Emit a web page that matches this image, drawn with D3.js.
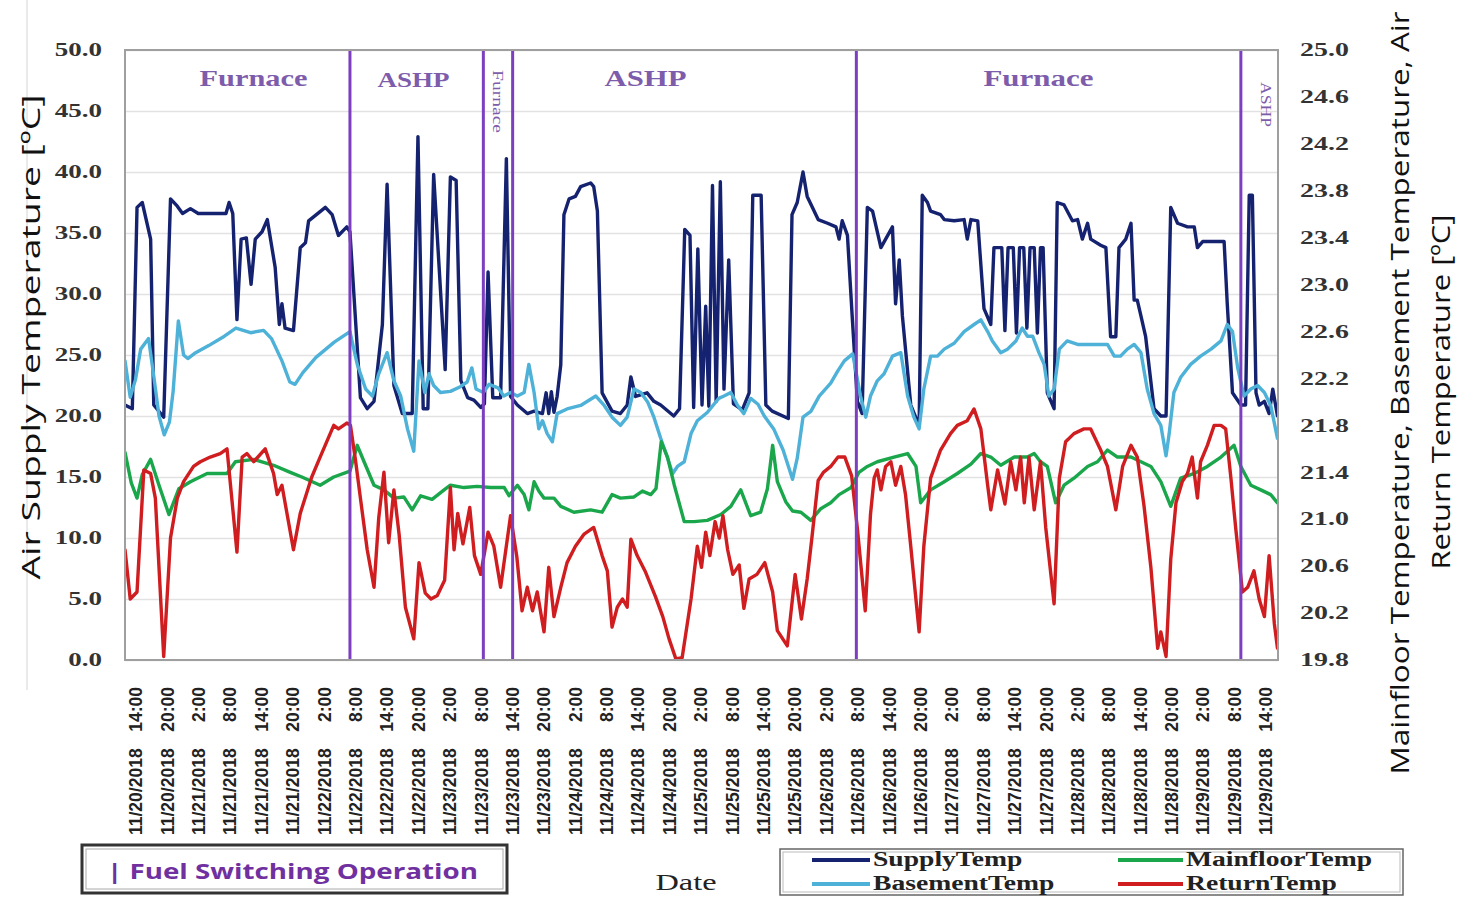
<!DOCTYPE html>
<html><head><meta charset="utf-8">
<script src="https://cdn.jsdelivr.net/npm/d3@7"></script>
<style>body{margin:0;background:#fff}svg{display:block}</style>
</head><body>
<svg id="chart" width="1458" height="899"></svg>
<script>
// ---------------- DATA ----------------
const axisStart = "11/20/2018 12:00";
const axisEnd   = "11/29/2018 16:24";

// hours after axisStart / SupplyTemp [°C] (left axis)
const supplyHours = [0,1.4,2.3,3.3,4.9,5.5,7.4,8.7,10,11,12.5,14,19.3,19.9,20.6,21.4,22.2,23.2,24.1,24.9,26.2,27.2,28.7,29.5,30,30.6,32.2,33.5,34.5,35.1,38.3,39.6,40.8,42.4,43,
 45,46.3,47.6,49.2,50.1,51.4,53,54.9,56,57,57.9,59,61.2,62.2,63.3,64.2,65.5,66.7,68,68.7,69.4,70.3,71.8,72.9,73.7,
 75,76.9,78.2,79.8,80.5,81,81.5,82,82.6,83.3,83.9,84.9,86.1,87.1,89,89.6,90.3,91.2,93.1,94.7,96,96.7,97.6,99.8,101.1,102.4,104.9,
 106,107,108,108.7,109.5,110.3,111,111.6,112.3,113,113.8,114.5,115.4,116.3,118,119.3,120,121.6,122.5,123.7,126.8,127.5,128.5,129.6,130.4,131.5,132.5,134.3,135.9,136.5,137.1,138.1,139,140,140.9,
 141.9,142.9,144.5,145.4,146.7,147.3,148,148.6,150.2,151.8,152.4,153.4,154,155.9,156.6,158.5,160.4,161,161.7,163,164.2,165.5,166.1,167.6,168.2,168.8,169.8,170.4,171,171.8,172.4,173,173.8,174.4,175,175.5,176.3,177.6,
 178.2,179.5,181.1,182.1,183,184,184.6,186.5,187.5,188.4,189.4,190,191.3,192.3,192.9,193.5,194.2,195.1,196.7,198,199,199.9,201.2,203.1,204.4,205,206,210.1,210.7,211.7,213.3,214.2,214.9,215.5,216.2,216.8,217.8,218.7,219.4,220.3];
const supplyTemp = [20.9,20.6,37.1,37.5,34.5,20.9,19.9,37.8,37.2,36.6,37.0,36.6,36.6,37.5,36.6,27.9,34.5,34.6,30.8,34.5,35.1,36.1,32.2,27.5,29.2,27.2,27.0,33.8,34.2,36.0,37.1,36.5,34.8,35.5,35.1,
 21.5,20.6,21.2,27.5,39.0,22.5,20.2,20.2,42.9,20.6,20.6,39.8,23.8,39.6,39.3,22.9,21.5,21.3,20.7,21.0,31.8,21.5,21.5,41.1,21.6,
 20.9,20.2,20.4,20.2,21.9,20.2,22.0,20.3,21.6,24.2,36.5,37.8,38.0,38.8,39.1,38.8,36.8,21.9,20.4,20.2,20.9,23.2,21.6,21.9,21.2,20.9,20.0,
 20.6,35.3,34.8,20.7,33.7,20.9,29.0,20.8,38.9,21.2,39.2,22.2,32.8,21.0,20.5,21.9,38.1,38.1,20.9,20.4,19.8,36.5,37.5,40.0,38.0,37.0,36.1,35.8,35.5,34.5,36.0,34.8,28.2,21.2,20.2,
 37.1,36.8,33.8,34.5,35.5,29.2,32.8,28.2,20.9,19.2,38.1,37.5,36.8,36.5,36.1,36.0,36.1,34.5,36.1,36.0,28.8,27.5,33.8,33.8,27.0,33.8,33.8,26.8,33.8,33.8,27.2,33.8,33.8,26.8,33.8,33.8,21.9,20.6,
 37.5,37.3,36.0,36.1,34.5,35.8,34.5,34.0,33.8,26.5,26.5,33.8,34.5,35.8,29.5,29.5,28.2,26.5,20.6,20.0,20.0,37.1,35.8,35.5,35.5,33.8,34.3,34.3,29.2,21.9,20.9,20.9,38.1,38.1,21.9,20.9,21.2,20.2,22.2,20.0];

// BasementTemp [°C] (right axis)
const basementHours = [0,1,2,3,4.5,5.5,6.5,7.5,8.5,9.2,10.2,11.2,12,13.5,16,19,21.2,24,26.5,28,30,31.5,32.5,34,36.5,40,43,
 44.4,46,47.3,48.5,50.1,51.4,52.7,54,55.2,56.2,57.3,58.1,59,60.3,62.2,64.1,65.4,66.3,67.1,68.5,69.6,71.3,72.4,73.7,75,76.3,77.2,78.2,79.1,79.8,80.7,81.7,82.6,84.5,87.1,90,91.6,93.1,94.7,96,97.3,
 98.6,99.9,101.1,102.4,103.5,104.7,105.6,106.9,108.2,109.4,111.3,113.5,114.5,115.8,117.1,118.3,119.6,121,122.2,124,125.8,127.6,128.5,129.6,131.1,132.7,134.9,136.2,137.5,139.1,
 140.6,141.6,142.5,143.8,145.1,146.7,148.3,149.6,150.8,151.8,152.7,154,155.3,156.6,158.5,160.4,162.3,163.6,164.9,165.8,167.4,168.7,170.3,171.5,172.5,173.5,174.7,175.7,176.6,177.6,
 178.6,180.1,182.1,186.5,187.8,189.1,190.3,191.6,192.9,194.2,195.4,196.7,198,199,199.6,200.5,201.8,203.7,205.6,207.6,209.5,210.7,211.7,212.7,213.9,215.2,216.5,217.8,219,220.3];
const basementTemp = [22.35,22.04,22.19,22.45,22.54,22.22,21.88,21.72,21.83,22.09,22.69,22.40,22.37,22.42,22.48,22.56,22.63,22.59,22.61,22.54,22.35,22.17,22.15,22.25,22.38,22.51,22.60,
 22.32,22.11,22.05,22.24,22.42,22.18,22.05,21.77,21.58,22.35,22.08,22.24,22.14,22.08,22.09,22.13,22.17,22.29,22.11,22.08,22.15,22.12,22.05,22.08,22.05,22.08,22.32,22.08,21.77,21.84,21.73,21.66,21.90,21.94,21.97,22.05,21.97,21.87,21.80,21.87,22.11,
 22.08,22.00,21.87,21.69,21.55,21.39,21.45,21.49,21.73,21.84,21.91,22.03,22.05,22.08,21.97,21.90,22.03,21.98,21.88,21.77,21.59,21.34,21.52,21.87,21.92,22.05,22.16,22.26,22.35,22.41,
 22.05,21.87,22.05,22.18,22.24,22.39,22.42,22.05,21.87,21.77,22.11,22.39,22.39,22.45,22.50,22.60,22.66,22.70,22.60,22.52,22.42,22.45,22.52,22.63,22.56,22.56,22.42,22.32,22.05,22.11,
 22.45,22.52,22.49,22.49,22.49,22.39,22.39,22.45,22.49,22.42,22.11,21.90,21.80,21.54,21.73,22.08,22.21,22.32,22.39,22.45,22.52,22.66,22.60,22.29,22.05,22.11,22.14,22.08,21.97,21.69];

// MainfloorTemp [°C] (right axis)
const mainfloorHours = [0,1.2,2.3,3.3,4.9,6.5,8.4,10.3,12.5,15.7,19.5,21.1,24.6,28.4,31.6,33.8,37.3,39.9,43,
 44.4,45.7,47.6,49.5,51.4,53.3,54.9,56.5,58.7,61,62.2,64.8,67.3,69.9,72.5,73.4,75,76.3,77.2,78.2,79.1,80.1,82,83.3,85.8,89,91.2,93.1,94.7,97.3,98.9,
 100.5,101.5,102.5,103.7,105,106.9,108.8,111.3,113.9,115.8,117.7,119.6,121.5,122.8,123.8,124.7,126.3,127.6,129.2,131.1,133,134.9,136.5,138.8,
 140.3,141.9,143.8,147,149.6,151.2,152.1,154,156.6,159.1,161.7,163.6,165.5,167.4,170,172.5,173.8,175,176.3,177.9,179.5,181.4,184,185.9,187.8,189.7,192.3,194.2,196.1,198,199.9,201.8,204.4,206.9,209.5,212,213.3,215.2,217.1,219,220.3];
const mainfloorTemp = [21.57,21.31,21.18,21.38,21.51,21.29,21.04,21.26,21.32,21.39,21.39,21.49,21.51,21.46,21.40,21.36,21.29,21.36,21.41,
 21.63,21.49,21.29,21.25,21.18,21.19,21.08,21.20,21.17,21.25,21.29,21.27,21.28,21.27,21.27,21.20,21.29,21.21,21.08,21.32,21.24,21.18,21.18,21.11,21.06,21.08,21.06,21.21,21.18,21.19,21.24,
 21.21,21.26,21.66,21.53,21.29,20.98,20.98,20.99,21.04,21.11,21.25,21.03,21.06,21.26,21.63,21.32,21.15,21.07,21.06,20.99,21.09,21.14,21.21,21.27,
 21.40,21.45,21.49,21.53,21.56,21.45,21.14,21.25,21.32,21.39,21.47,21.56,21.53,21.46,21.53,21.53,21.56,21.49,21.45,21.14,21.29,21.35,21.45,21.49,21.59,21.53,21.53,21.49,21.45,21.32,21.11,21.35,21.39,21.45,21.53,21.63,21.45,21.29,21.25,21.21,21.14];

// ReturnTemp [°C] (right axis)
const returnHours = [0,1,2.3,3.6,4.9,5.8,7.4,8.7,10,11.2,13.1,14.4,16.3,18.2,19.5,21.4,22.4,23.3,24.6,26.8,28.4,29.1,30,32.2,33.5,35.7,37.3,39.9,40.8,42.4,43.1,
 44.1,45,46.3,47.6,48.5,49.5,50.4,51.4,52.4,53.6,55.2,56.2,57.4,58.5,59.7,61.1,62.2,62.9,63.6,64.6,65.9,66.8,68,69.4,70.5,71.8,73.7,74.9,75.9,76.9,77.9,78.8,80.1,81,82,83.3,84.5,86.1,87.7,89.6,91.2,92.2,93.1,94.1,95.1,96,96.7,97.9,99.5,
 101.4,102.8,104,105.3,106.5,108.2,109.4,110.2,111,111.8,112.8,113.6,114.3,115.2,116.2,117.4,118.3,119.3,120.8,122.3,123.8,124.7,126.6,128.1,129.3,130.4,131.3,132.5,133.5,134.9,136.3,137.6,138.9,140,141.5,
 142.5,143.2,143.8,144.5,145.4,146.4,147.3,148.3,149.2,150.2,151.8,152.7,154,155.9,157.8,159.1,161,162.3,163.6,164.9,165.5,166.8,168.2,169.3,170.3,171.2,171.9,172.8,173.8,175,176,177.6,
 178.6,179.8,181.4,183.3,184.6,186.5,187.8,189.4,190.7,192.3,193.5,194.8,196.1,197.4,198,199,199.9,200.9,202.1,203.1,204,205,205.6,206.9,208.2,209.5,210.4,211.4,212.3,213.6,214.6,215.8,216.8,217.8,218.7,219.7,220.3];
const returnTemp = [20.74,20.32,20.38,21.42,21.39,21.18,19.83,20.84,21.18,21.32,21.45,21.49,21.53,21.56,21.60,20.72,21.53,21.56,21.49,21.60,21.39,21.21,21.29,20.74,21.05,21.36,21.53,21.80,21.77,21.82,21.80,
 21.49,21.18,20.74,20.42,21.01,21.40,20.80,21.25,20.87,20.25,19.98,20.63,20.37,20.32,20.35,20.48,21.27,20.74,21.05,20.79,21.10,20.69,20.53,20.89,20.77,20.42,21.03,20.68,20.22,20.42,20.22,20.38,20.04,20.59,20.17,20.42,20.63,20.77,20.87,20.93,20.69,20.56,20.08,20.25,20.32,20.25,20.83,20.69,20.55,
 20.34,20.17,19.98,19.81,19.82,20.32,20.77,20.59,20.89,20.69,20.98,20.84,21.03,20.74,20.53,20.61,20.24,20.49,20.53,20.63,20.38,20.05,19.92,20.53,20.15,20.49,20.84,21.33,21.40,21.45,21.53,21.53,21.37,20.92,20.22,
 21.04,21.35,21.42,21.25,21.45,21.49,21.29,21.45,21.21,20.77,20.04,20.77,21.35,21.59,21.73,21.80,21.84,21.94,21.77,21.29,21.08,21.42,21.13,21.49,21.25,21.53,21.14,21.53,21.08,21.49,20.93,20.28,
 21.35,21.66,21.73,21.77,21.77,21.59,21.45,21.08,21.45,21.63,21.53,21.11,20.59,19.90,20.04,19.83,20.66,21.14,21.32,21.39,21.53,21.18,21.49,21.63,21.80,21.80,21.77,21.35,20.93,20.38,20.42,20.56,20.32,20.17,20.69,20.11,19.90];

const leftTicks  = [0,5,10,15,20,25,30,35,40,45,50];
const rightTicks = [19.8,20.2,20.6,21.0,21.4,21.8,22.2,22.6,23.0,23.4,23.8,24.2,24.6,25.0];
const tickLabels = ["11/20/2018 14:00","11/20/2018 20:00","11/21/2018 2:00","11/21/2018 8:00","11/21/2018 14:00","11/21/2018 20:00",
 "11/22/2018 2:00","11/22/2018 8:00","11/22/2018 14:00","11/22/2018 20:00","11/23/2018 2:00","11/23/2018 8:00","11/23/2018 14:00","11/23/2018 20:00",
 "11/24/2018 2:00","11/24/2018 8:00","11/24/2018 14:00","11/24/2018 20:00","11/25/2018 2:00","11/25/2018 8:00","11/25/2018 14:00","11/25/2018 20:00",
 "11/26/2018 2:00","11/26/2018 8:00","11/26/2018 14:00","11/26/2018 20:00","11/27/2018 2:00","11/27/2018 8:00","11/27/2018 14:00","11/27/2018 20:00",
 "11/28/2018 2:00","11/28/2018 8:00","11/28/2018 14:00","11/28/2018 20:00","11/29/2018 2:00","11/29/2018 8:00","11/29/2018 14:00"];

const switchTimes = ["11/22/2018 07:00","11/23/2018 08:30","11/23/2018 14:06","11/26/2018 07:48","11/29/2018 09:18"];
const modeNames = ["Furnace","ASHP","Furnace","ASHP","Furnace","ASHP"];
const modeTimes = ["11/21/2018 12:34","11/22/2018 19:09","11/23/2018 11:12","11/24/2018 15:30","11/27/2018 18:36","11/29/2018 14:00"];
const modeRotated = [false,false,true,false,false,true];

const legendNames = ["SupplyTemp","MainfloorTemp","BasementTemp","ReturnTemp"];

// ---------------- STYLE ----------------
const colors = {SupplyTemp:"#15226f", BasementTemp:"#4eb1d8", MainfloorTemp:"#1aa64b", ReturnTemp:"#cf1d20"};
const purple = "#7c3fc0";
const P = {left:125, right:1278, top:50, bottom:660};
const modeFont = [24,20,14,23,24,14];
const modeLen  = [108,72,63,82,110,45];

// ---------------- CHART ----------------
const parse = d3.timeParse("%m/%d/%Y %H:%M");
const t0 = parse(axisStart), t1 = parse(axisEnd);
const toDate = h => new Date(t0.getTime() + h*3600000);

const svg = d3.select("#chart");
const x  = d3.scaleTime().domain([t0,t1]).range([P.left,P.right]);
const yL = d3.scaleLinear().domain([0,50]).range([P.bottom,P.top]);
const yR = d3.scaleLinear().domain([19.8,25.0]).range([P.bottom,P.top]);

function stretch(sel,k){
  sel.each(function(){
    const w=this.getComputedTextLength();
    this.setAttribute("textLength",w*k);
    this.setAttribute("lengthAdjust","spacingAndGlyphs");
  });
}
function fixLen(sel,len){ sel.attr("textLength",len).attr("lengthAdjust","spacingAndGlyphs"); }

// faint frame line at far left
svg.append("line").attr("x1",27).attr("x2",27).attr("y1",0).attr("y2",690)
  .attr("stroke","#d4d4d4").attr("stroke-width",1);

// gridlines
svg.append("g").attr("transform",`translate(${P.left},0)`)
  .call(d3.axisLeft(yL).tickValues(leftTicks).tickSize(-(P.right-P.left)).tickFormat(""))
  .call(g=>g.select(".domain").remove())
  .call(g=>g.selectAll(".tick line").attr("stroke","#e2e2e2").attr("stroke-width",1.5));

// series
const series = [
  {name:"SupplyTemp", h:supplyHours, v:supplyTemp, y:yL},
  {name:"BasementTemp", h:basementHours, v:basementTemp, y:yR},
  {name:"MainfloorTemp", h:mainfloorHours, v:mainfloorTemp, y:yR},
  {name:"ReturnTemp", h:returnHours, v:returnTemp, y:yR}
];
svg.append("clipPath").attr("id","clip").append("rect")
  .attr("x",P.left).attr("y",P.top).attr("width",P.right-P.left).attr("height",P.bottom-P.top);
const gLines = svg.append("g").attr("clip-path","url(#clip)");
series.forEach(s=>{
  const pts = s.h.map((h,i)=>({t:toDate(h), v:s.v[i]}));
  gLines.append("path").datum(pts)
    .attr("fill","none").attr("stroke",colors[s.name]).attr("stroke-width",3.4)
    .attr("stroke-linejoin","round").attr("stroke-linecap","round")
    .attr("d",d3.line().x(d=>x(d.t)).y(d=>s.y(d.v)));
});

// switching lines
svg.append("g").selectAll("line").data(switchTimes.map(parse)).join("line")
  .attr("x1",d=>x(d)).attr("x2",d=>x(d)).attr("y1",P.top).attr("y2",P.bottom)
  .attr("stroke",purple).attr("stroke-width",3);

// plot border
svg.append("rect").attr("x",P.left).attr("y",P.top).attr("width",P.right-P.left).attr("height",P.bottom-P.top)
  .attr("fill","none").attr("stroke","#9f9f9f").attr("stroke-width",2);

// mode labels
modeNames.forEach((m,i)=>{
  const tx = x(parse(modeTimes[i]));
  const t = svg.append("text").text(m)
    .attr("font-family","'Liberation Serif','Times New Roman',serif")
    .attr("font-size",modeFont[i]).attr("fill","#7d5cab");
  if(modeRotated[i]){
    t.attr("transform",`translate(${tx},${i===2?70:82}) rotate(90)`).attr("dy","0.35em").attr("text-anchor","start");
  } else {
    t.attr("x",tx).attr("y",i===1?87:86).attr("text-anchor","middle").attr("font-weight","bold");
  }
  fixLen(t,modeLen[i]);
});

// left axis
const gl = svg.append("g").attr("transform",`translate(${P.left},0)`)
  .call(d3.axisLeft(yL).tickValues(leftTicks).tickSize(0).tickPadding(23).tickFormat(d3.format(".1f")));
gl.select(".domain").remove();
gl.selectAll("text").attr("font-family","'Liberation Serif',serif").attr("font-weight","bold")
  .attr("font-size",18).attr("fill","#333").call(stretch,1.5);

// right axis
const gr = svg.append("g").attr("transform",`translate(${P.right},0)`)
  .call(d3.axisRight(yR).tickValues(rightTicks).tickSize(0).tickPadding(22).tickFormat(d3.format(".1f")));
gr.select(".domain").remove();
gr.selectAll("text").attr("font-family","'Liberation Serif',serif").attr("font-weight","bold")
  .attr("font-size",18).attr("fill","#333").call(stretch,1.55);

// bottom axis
const tickDates = tickLabels.map(parse);
const gb = svg.append("g").attr("transform",`translate(0,${P.bottom})`)
  .call(d3.axisBottom(x).tickValues(tickDates).tickSize(0).tickFormat(""));
gb.select(".domain").remove();
gb.selectAll(".tick").each(function(d,i){
  const parts = tickLabels[i].split(" ");
  const g = d3.select(this);
  g.selectAll("text").remove();
  g.append("text").text(parts[0])
    .attr("transform",`translate(0,${835-P.bottom}) rotate(-90)`).attr("dy","0.36em")
    .attr("text-anchor","start").attr("font-family","'Liberation Sans',Arial,sans-serif")
    .attr("font-weight","bold").attr("font-size",17.5).attr("fill","#222");
  g.append("text").text(parts[1])
    .attr("transform",`translate(0,${687-P.bottom}) rotate(-90)`).attr("dy","0.36em")
    .attr("text-anchor","end").attr("font-family","'Liberation Sans',Arial,sans-serif")
    .attr("font-weight","bold").attr("font-size",17.5).attr("fill","#222");
});

// axis titles
svg.append("text").text("Air Supply Temperature [ºC]")
  .attr("transform","translate(31,337) rotate(-90)").attr("dy","0.35em").attr("text-anchor","middle")
  .attr("font-family","'Open Sans','Liberation Sans',sans-serif").attr("font-size",26).attr("fill","#111")
  .call(fixLen,485);
svg.append("text").text("Mainfloor Temperature, Basement Temperature, Air")
  .attr("transform","translate(1400,393) rotate(-90)").attr("dy","0.35em").attr("text-anchor","middle")
  .attr("font-family","'Open Sans','Liberation Sans',sans-serif").attr("font-size",26).attr("fill","#111")
  .call(fixLen,763);
svg.append("text").text("Return Temperature [ºC]")
  .attr("transform","translate(1441,392) rotate(-90)").attr("dy","0.35em").attr("text-anchor","middle")
  .attr("font-family","'Open Sans','Liberation Sans',sans-serif").attr("font-size",26).attr("fill","#111")
  .call(fixLen,355);

svg.append("text").text("Date").attr("x",686).attr("y",890).attr("text-anchor","middle")
  .attr("font-family","'Liberation Serif',serif").attr("font-size",24).attr("fill","#222").call(fixLen,61);

// fuel switching legend box
svg.append("rect").attr("x",82).attr("y",845).attr("width",425).attr("height",48)
  .attr("fill","#fff").attr("stroke","#333").attr("stroke-width",3);
svg.append("rect").attr("x",86).attr("y",849).attr("width",417).attr("height",40)
  .attr("fill","none").attr("stroke","#aaa").attr("stroke-width",1);
svg.append("text").text("| Fuel Switching Operation").attr("x",107).attr("y",879)
  .attr("font-family","'Open Sans','Liberation Sans',sans-serif").attr("font-weight","bold")
  .attr("font-size",21).attr("fill","#7030a0").call(fixLen,371);

// series legend
svg.append("rect").attr("x",780).attr("y",849).attr("width",623).attr("height",46)
  .attr("fill","#fff").attr("stroke","#666").attr("stroke-width",1.5);
svg.append("rect").attr("x",783).attr("y",852).attr("width",617).attr("height",40)
  .attr("fill","none").attr("stroke","#bbb").attr("stroke-width",1);
const legX = [812,1118], legLen = [58,65], legY = [860,884];
legendNames.forEach((n,i)=>{
  const c = i%2, r = Math.floor(i/2);
  svg.append("line").attr("x1",legX[c]).attr("x2",legX[c]+legLen[c]).attr("y1",legY[r]).attr("y2",legY[r])
    .attr("stroke",colors[n]).attr("stroke-width",4);
  svg.append("text").text(n).attr("x",legX[c]+legLen[c]+3).attr("y",legY[r]+6)
    .attr("font-family","'Liberation Serif',serif").attr("font-weight","bold")
    .attr("font-size",20).attr("fill","#222").call(stretch,1.38);
});
</script>
</body></html>
